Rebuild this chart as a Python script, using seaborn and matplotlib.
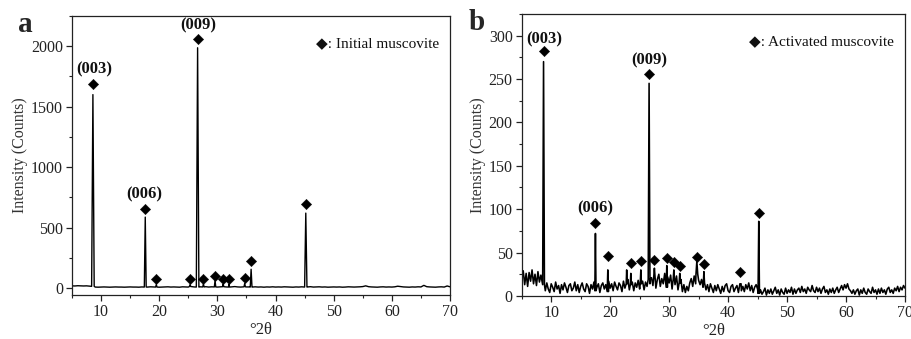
import numpy as np
import matplotlib
matplotlib.use("Agg")
import matplotlib.pyplot as plt
import seaborn as sns
from matplotlib.ticker import MultipleLocator

# ---------------- data ----------------
# Panel a: background on 0.5 deg grid starting at 5.0
a_bg_start, a_bg_step = 5.0, 0.5
a_bg_1 = [20, 19, 21, 20, 19, 20, 18, 16]
a_bg_2 = [10, 9, 10, 11, 10, 9, 10, 11, 10, 10, 9, 10, 11, 10, 10, 9, 11, 10, 10, 12, 11, 10, 9]
a_bg_3 = [10, 11, 12, 10, 11, 10, 9, 12, 11, 10, 14, 11, 10, 12, 11, 13, 10, 12, 11, 10,
          12, 13, 11, 10, 12, 14, 11, 10, 12, 11]
a_bg_4 = [11, 10, 12, 10, 11, 9, 11, 10, 12, 10, 11, 10, 12, 11, 10, 9, 11, 10, 12, 10,
          11, 13, 10, 11, 12, 10, 11, 9, 10, 11]
a_bg_5 = [10, 11, 9, 10, 12, 11, 10, 11, 12, 14, 20, 13, 11, 10, 9, 11, 12, 10, 11, 10,
          12, 17, 14, 11, 10, 9, 11, 10, 12, 11, 24, 13, 11, 10, 9, 11, 12, 10, 19, 12]
# peaks: position (deg), height (counts), half width (deg)
a_peak_pos = [8.6, 17.6, 19.5, 25.3, 26.6, 27.6, 29.6, 31.0, 32.0, 34.7, 35.8, 45.2]
a_peak_h = [1600, 588, 30, 30, 1987, 35, 65, 35, 32, 40, 157, 621]
a_peak_w = [0.22, 0.16, 0.12, 0.12, 0.22, 0.12, 0.12, 0.1, 0.1, 0.12, 0.15, 0.2]
# diamond markers
a_mark_x = [8.6, 17.6, 19.5, 25.3, 26.6, 27.6, 29.6, 31.0, 32.0, 34.7, 35.8, 45.2]
a_mark_y = [1691, 656, 74, 74, 2061, 74, 102, 74, 74, 83, 226, 698]
# hkl labels
a_lab_text = ["(003)", "(006)", "(009)"]
a_lab_x = [8.9, 17.4, 26.7]
a_lab_y = [1807, 772, 2171]

# Panel b: noisy background on 0.25 deg grid starting at 5.0
b_bg_start, b_bg_step = 5.0, 0.25
b_bg_1 = [20, 29, 13, 26, 11, 27, 17, 30, 14, 25, 12, 28, 16, 24, 15]
b_bg_2 = [13, 6, 15, 8, 4, 14, 10, 5, 16, 8, 12, 3, 13, 7, 15, 10, 4, 12, 14, 6, 9, 16, 6, 13,
          4, 11, 15, 8, 5, 14, 11, 3, 13, 8, 16, 6, 10, 14, 4, 12, 15, 8, 13, 5, 17, 9, 14, 6,
          16, 11, 7, 15, 12, 5, 17, 9, 14, 19, 7, 13, 16, 6, 15, 10, 18, 8, 14, 17, 7, 16, 11,
          19, 14]
b_bg_3 = [21, 12, 23, 9, 19, 25, 11, 20, 14, 26, 10, 22, 15, 24, 8, 20, 13, 23, 7, 15, 19,
          5, 13, 4, 11, 6, 15, 20, 11, 23, 14, 25, 18, 13, 19, 10]
b_bg_4 = [15, 7, 13, 5, 14, 9, 4, 12, 6, 13, 8, 3, 11, 5, 12, 14, 6, 4, 11, 13, 5, 9, 12, 4,
          14, 6, 11, 5, 13, 8, 15, 6, 12, 4, 10, 13]
b_bg_5 = [8, 3, 7, 2, 5, 9, 1, 7, 3, 8, 2, 6, 10, 3, 7, 1, 8, 4, 2, 9, 3, 7, 4, 10, 2, 8, 3, 7,
          9, 4, 11, 5, 8, 3, 10, 7, 5, 12, 6, 4, 10, 5, 9, 3, 8, 11, 4, 7, 2, 8, 4, 9, 3, 7, 10, 4,
          8, 12, 7, 13, 9, 14, 8, 6, 3, 7, 2, 6, 8, 1, 7, 3, 9, 4, 2, 8, 5, 3, 10, 4, 7, 2, 8, 3,
          9, 4, 7, 2, 8, 10, 4, 7, 3, 9, 6, 11, 5, 10, 7, 12, 9]
b_peak_pos = [8.7, 17.5, 19.6, 22.8, 23.5, 25.2, 26.6, 27.5, 29.6, 30.8, 31.8, 34.7, 35.9, 42.1, 45.2]
b_peak_h = [270, 72, 30, 30, 26, 30, 245, 32, 35, 30, 26, 40, 28, 14, 86]
b_peak_w = [0.15, 0.1, 0.1, 0.08, 0.08, 0.1, 0.15, 0.1, 0.1, 0.1, 0.1, 0.15, 0.1, 0.1, 0.12]
b_mark_x = [8.7, 17.5, 19.6, 23.5, 25.2, 26.6, 27.5, 29.6, 30.8, 31.8, 34.7, 35.9, 42.1, 45.2]
b_mark_y = [282, 84, 46, 38, 40, 256, 41, 44, 39, 34, 45, 37, 28, 96]
b_lab_text = ["(003)", "(006)", "(009)"]
b_lab_x = [8.75, 17.4, 26.6]
b_lab_y = [296, 101, 272]

x_ticks = [10, 20, 30, 40, 50, 60, 70]


def build_curve(start, step, bg, pos, hgt, hw):
    bx = start + step * np.arange(len(bg))
    by = np.asarray(bg, dtype=float)
    keep = np.ones(len(bx), bool)
    xs, ys = [], []
    for p, h, w in zip(pos, hgt, hw):
        keep &= ~((bx > p - w) & (bx < p + w))
        base = by[np.argmin(np.abs(bx - p))]
        xs += [p - w, p, p + w]
        ys += [base, h, base]
    x = np.concatenate([bx[keep], xs])
    y = np.concatenate([by[keep], ys])
    o = np.argsort(x, kind="stable")
    return x[o], y[o]


sns.set_theme(style="ticks")
plt.rcParams["font.family"] = ["Liberation Serif", "DejaVu Sans"]

fig = plt.figure(figsize=(9.11, 3.39), dpi=100)
ax_a = fig.add_axes([0.079, 0.130, 0.415, 0.823])
ax_b = fig.add_axes([0.5727, 0.127, 0.4207, 0.832])

panels = [
    (ax_a, a_bg_start, a_bg_step, a_bg_1 + a_bg_2 + a_bg_3 + a_bg_4 + a_bg_5,
     a_peak_pos, a_peak_h, a_peak_w, a_mark_x, a_mark_y, a_lab_text, a_lab_x, a_lab_y,
     (-55, 2250), 500, 250, "\u25c6: Initial muscovite", 1.0),
    (ax_b, b_bg_start, b_bg_step, b_bg_1 + b_bg_2 + b_bg_3 + b_bg_4 + b_bg_5,
     b_peak_pos, b_peak_h, b_peak_w, b_mark_x, b_mark_y, b_lab_text, b_lab_x, b_lab_y,
     (0, 325), 50, 25, "\u25c6: Activated muscovite", 1.15),
]

for (ax, st, sp, bg, pp, ph, pw, mx, my, lt, lx, ly, ylim, ymaj, ymin, legtxt, lw) in panels:
    x, y = build_curve(st, sp, bg, pp, ph, pw)
    sns.lineplot(x=x, y=y, ax=ax, sort=False, estimator=None, color="black", lw=lw)
    sns.scatterplot(x=mx, y=my, ax=ax, marker="D", s=28, color="black", edgecolor="black",
                    linewidth=0.3, zorder=5)
    for t, tx, ty in zip(lt, lx, ly):
        ax.text(tx, ty, t, ha="center", va="center", fontsize=12, fontweight="bold",
                color="#111111")
    ax.set_xlim(5, 70)
    ax.set_ylim(*ylim)
    ax.set_xticks(x_ticks)
    ax.xaxis.set_minor_locator(MultipleLocator(5))
    ax.yaxis.set_major_locator(MultipleLocator(ymaj))
    ax.yaxis.set_minor_locator(MultipleLocator(ymin))
    ax.tick_params(which="major", direction="out", length=4.5, width=0.9, labelsize=11.5,
                   colors="#222222", pad=2)
    ax.tick_params(which="minor", direction="out", length=2.5, width=0.8, colors="#222222")
    for s in ax.spines.values():
        s.set_linewidth(0.9)
        s.set_color("#222222")
    ax.set_xlabel("\u00b02\u03b8", fontsize=12, color="#222222", labelpad=1.5)
    ax.set_ylabel("Intensity (Counts)", fontsize=11.5, color="#333333", labelpad=2)
    ax.text(0.97, 0.90, legtxt, transform=ax.transAxes, ha="right", va="center",
            fontsize=11, color="#111111")
    ax.grid(False)

fig.text(18 / 911, 1 - 24 / 339, "a", fontsize=21, fontweight="bold", va="center", ha="left")
fig.text(469 / 911, 1 - 23 / 339, "b", fontsize=21, fontweight="bold", va="center", ha="left")

fig.savefig("out.png", dpi=100)
